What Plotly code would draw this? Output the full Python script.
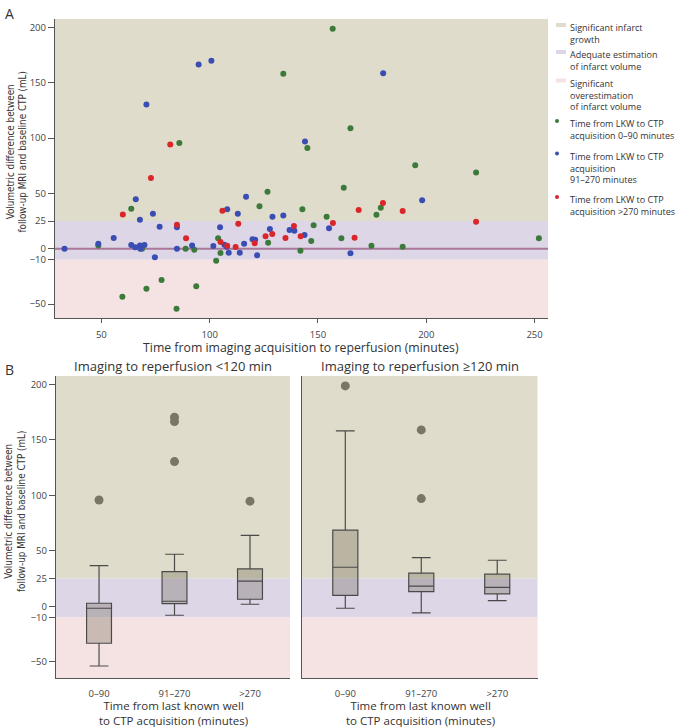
import plotly.graph_objects as go

# Panel A: time from imaging to reperfusion (min) vs volumetric difference (mL)
green_x = [48.6, 59.7, 63.8, 68.8, 70.8, 77.8, 84.7, 86.0, 88.9, 92.9, 93.8, 103.0, 103.9, 105.0,
           123.0, 126.7, 127.0, 134.0, 141.9, 142.8, 145.1, 146.9, 148.0, 154.0, 156.8, 160.8,
           161.9, 165.0, 174.7, 177.0, 179.0, 189.1, 194.9, 223.0, 252.0]
green_y = [3.0, -43.3, 36.1, 0.0, -36.1, -28.2, -54.2, 95.4, 0.0, -0.9, -33.9, -10.8, 9.4, -3.9,
           38.3, 51.4, 5.4, 158.0, -1.8, 35.6, 90.9, 6.9, 21.1, 28.9, 198.6, 9.4,
           55.1, 108.9, 2.7, 30.7, 37.0, 1.8, 75.3, 68.9, 9.4]

blue_x = [33.0, 48.6, 55.7, 63.8, 65.9, 65.6, 67.8, 67.8, 68.0, 69.9, 70.8, 73.8, 74.7, 76.9,
          84.9, 84.9, 91.9, 94.9, 100.8, 101.7, 104.8, 106.8, 108.1, 107.9, 108.8, 113.0,
          113.9, 115.9, 116.8, 119.8, 121.0, 121.9, 127.8, 129.0, 134.0, 136.9, 139.1, 144.0,
          143.8, 155.1, 165.0, 180.1, 198.1]
blue_y = [0.0, 4.5, 9.7, 3.3, 44.6, 1.2, 26.2, 2.8, 0.0, 3.3, 130.3, 31.6, -7.8, 19.9,
          19.3, 0.0, 3.0, 166.4, 169.7, 2.4, 19.3, 3.6, 35.6, 1.8, -3.6, 31.6,
          -3.6, 4.5, 47.0, 8.5, 8.1, -6.0, 17.8, 28.9, 30.1, 16.9, 16.2, 96.9,
          12.4, 18.4, -4.2, 158.6, 43.7]

red_x = [59.9, 72.9, 81.8, 84.9, 89.1, 105.0, 105.9, 108.1, 112.0, 113.2, 120.8, 125.8,
         128.9, 135.0, 138.9, 142.0, 156.9, 166.9, 168.8, 180.0, 189.1, 223.0]
red_y = [31.0, 63.8, 94.2, 21.7, 9.4, 6.0, 34.3, 2.7, 1.5, 22.6, 5.0, 11.2,
         13.3, 9.7, 20.5, 11.2, 23.2, 9.9, 34.9, 41.2, 34.0, 24.4]

# Panel B: box plot summaries by time from LKW to CTP
box_cats = ["0–90", "91–270", ">270"]
early_q1 = [-33.4, 2.3, 6.3]
early_median = [-1.8, 4.5, 22.6]
early_q3 = [2.7, 31.2, 33.7]
early_low = [-53.9, -8.1, 1.8]
early_high = [36.6, 46.9, 64.0]
early_out_x = ["0–90", "91–270", "91–270", "91–270", ">270"]
early_out_y = [95.9, 170.6, 166.6, 130.5, 94.8]

late_q1 = [9.9, 13.2, 11.1]
late_median = [35.2, 18.1, 17.1]
late_q3 = [68.6, 29.8, 28.9]
late_low = [-1.8, -6.0, 5.1]
late_high = [158.2, 43.9, 41.5]
late_out_x = ["0–90", "91–270", "91–270"]
late_out_y = [198.8, 159.1, 97.1]

# thresholds for the background bands
growth_min = 25
over_max = -10

TAN = "#e0dccb"
LAV = "#ddd6e7"
PINK = "#f5e2e2"
GREEN = "#3b7a3b"
BLUE = "#3a4db3"
RED = "#d9262b"
W, H = 680, 727
FONT = "Open Sans"
NARROW = "DejaVu Sans Condensed, Open Sans"


def fx(p):
    return p / W


def fy(p):
    return 1 - p / H


fig = go.Figure()

fig.add_trace(go.Scatter(x=green_x, y=green_y, mode="markers", marker=dict(color=GREEN, size=6),
                         xaxis="x", yaxis="y", showlegend=False))
fig.add_trace(go.Scatter(x=blue_x, y=blue_y, mode="markers", marker=dict(color=BLUE, size=6),
                         xaxis="x", yaxis="y", showlegend=False))
fig.add_trace(go.Scatter(x=red_x, y=red_y, mode="markers", marker=dict(color=RED, size=6),
                         xaxis="x", yaxis="y", showlegend=False))

box_style = dict(fillcolor="rgba(100,92,72,0.30)", line=dict(color="#4a4a4a", width=1.2),
                 width=0.33, whiskerwidth=0.75, showlegend=False, boxpoints=False)
fig.add_trace(go.Box(x=box_cats, q1=early_q1, median=early_median, q3=early_q3,
                     lowerfence=early_low, upperfence=early_high, xaxis="x2", yaxis="y2", **box_style))
fig.add_trace(go.Box(x=box_cats, q1=late_q1, median=late_median, q3=late_q3,
                     lowerfence=late_low, upperfence=late_high, xaxis="x3", yaxis="y3", **box_style))
fig.add_trace(go.Scatter(x=early_out_x, y=early_out_y, mode="markers", marker=dict(color="#7a7566", size=9),
                         xaxis="x2", yaxis="y2", showlegend=False))
fig.add_trace(go.Scatter(x=late_out_x, y=late_out_y, mode="markers", marker=dict(color="#7a7566", size=9),
                         xaxis="x3", yaxis="y3", showlegend=False))

# background bands
shapes = []
for xr, yr, top, bot in [("x", "y", 207.5, -62.6), ("x2", "y2", 208, -65), ("x3", "y3", 208, -65)]:
    for y0, y1, col in [(growth_min, top, TAN), (over_max, growth_min, LAV), (bot, over_max, PINK)]:
        shapes.append(dict(type="rect", xref=xr + " domain", yref=yr, x0=0, x1=1, y0=y0, y1=y1,
                           fillcolor=col, line_width=0, layer="below"))
shapes.append(dict(type="line", xref="x domain", yref="y", x0=0, x1=1, y0=0, y1=0,
                   line=dict(color="#a87799", width=2), layer="below"))

axis_common = dict(showline=True, linecolor="#555", linewidth=1.3, showgrid=False, zeroline=False,
                   tickfont=dict(size=9.5, color="#444", family=FONT))
y_ticks = [-50, -10, 0, 25, 50, 100, 150, 200]

fig.update_layout(
    width=W, height=H, margin=dict(l=0, r=0, t=0, b=0),
    paper_bgcolor="white", plot_bgcolor="white",
    font=dict(family=FONT, color="#333"),
    xaxis=dict(domain=[fx(55), fx(548)], range=[28.6, 256.2], tickvals=[50, 100, 150, 200, 250],
               ticks="outside", ticklen=4, tickcolor="#555", ticklabelstandoff=3, anchor="y", **axis_common),
    yaxis=dict(domain=[fy(318), fy(19)], range=[-62.6, 207.5], tickvals=y_ticks,
               ticks="outside", ticklen=6, tickcolor="#555", anchor="x", **axis_common),
    xaxis2=dict(domain=[fx(56), fx(290)], range=[-0.57, 2.53], type="category", ticks="",
                ticklabelstandoff=6, anchor="y2", **axis_common),
    yaxis2=dict(domain=[fy(678.3), fy(375.7)], range=[-65, 208], tickvals=y_ticks,
                ticks="outside", ticklen=6, tickcolor="#555", anchor="x2", **axis_common),
    xaxis3=dict(domain=[fx(302), fx(537.5)], range=[-0.57, 2.53], type="category", ticks="",
                ticklabelstandoff=6, anchor="y3", **axis_common),
    yaxis3=dict(domain=[fy(678.3), fy(375.7)], range=[-65, 208], showticklabels=False, ticks="",
                anchor="x3", **axis_common),
)

ann = []
ytitle = "Volumetric difference between<br>follow-up MRI and baseline CTP (mL)"
ann.append(dict(text="A", x=fx(3), y=fy(2), xanchor="left", yanchor="top", font=dict(size=14)))
ann.append(dict(text="B", x=fx(3), y=fy(358), xanchor="left", yanchor="top", font=dict(size=14)))
ann.append(dict(text=ytitle, x=fx(16.5), y=fy(152), textangle=-90, font=dict(size=9.8, family=NARROW)))
ann.append(dict(text=ytitle, x=fx(15), y=fy(512), textangle=-90, font=dict(size=9.8, family=NARROW)))
ann.append(dict(text="Time from imaging acquisition to reperfusion (minutes)", x=fx(301), y=fy(348),
                font=dict(size=12.3)))
ann.append(dict(text="Imaging to reperfusion <120 min", x=fx(173), y=fy(366), font=dict(size=13)))
ann.append(dict(text="Imaging to reperfusion ≥120 min", x=fx(420), y=fy(366), font=dict(size=13)))
for cx in (173, 420):
    ann.append(dict(text="Time from last known well<br>to CTP acquisition (minutes)", x=fx(cx), y=fy(713),
                    font=dict(size=11.5)))

# manual legend for panel A
legend_items = [
    ("rect", TAN, 25, "Significant infarct<br>growth"),
    ("rect", LAV, 52, "Adequate estimation<br>of infarct volume"),
    ("rect", PINK, 80.5, "Significant<br>overestimation<br>of infarct volume"),
    ("dot", GREEN, 121, "Time from LKW to CTP<br>acquisition 0–90 minutes"),
    ("dot", BLUE, 153.5, "Time from LKW to CTP<br>acquisition<br>91–270 minutes"),
    ("dot", RED, 197, "Time from LKW to CTP<br>acquisition >270 minutes"),
]
for kind, col, y0, label in legend_items:
    if kind == "rect":
        shapes.append(dict(type="rect", xref="paper", yref="paper", x0=fx(556), x1=fx(566),
                           y0=fy(y0 + 2), y1=fy(y0 - 2), fillcolor=col, line_width=0))
    else:
        shapes.append(dict(type="circle", xref="paper", yref="paper", x0=fx(555), x1=fx(559),
                           y0=fy(y0 + 2), y1=fy(y0 - 2), fillcolor=col, line_width=0))
    ann.append(dict(text=label, x=fx(567.5), y=fy(y0 - 6), xanchor="left", yanchor="top", align="left",
                    font=dict(size=9, color="#333")))

for a in ann:
    a.setdefault("xref", "paper")
    a.setdefault("yref", "paper")
    a.setdefault("xanchor", "center")
    a.setdefault("yanchor", "middle")
    a.setdefault("showarrow", False)

fig.update_layout(annotations=ann, shapes=shapes)

fig.write_html("out.html", config={"displayModeBar": False},
               post_script="document.body.style.margin='0px';")
